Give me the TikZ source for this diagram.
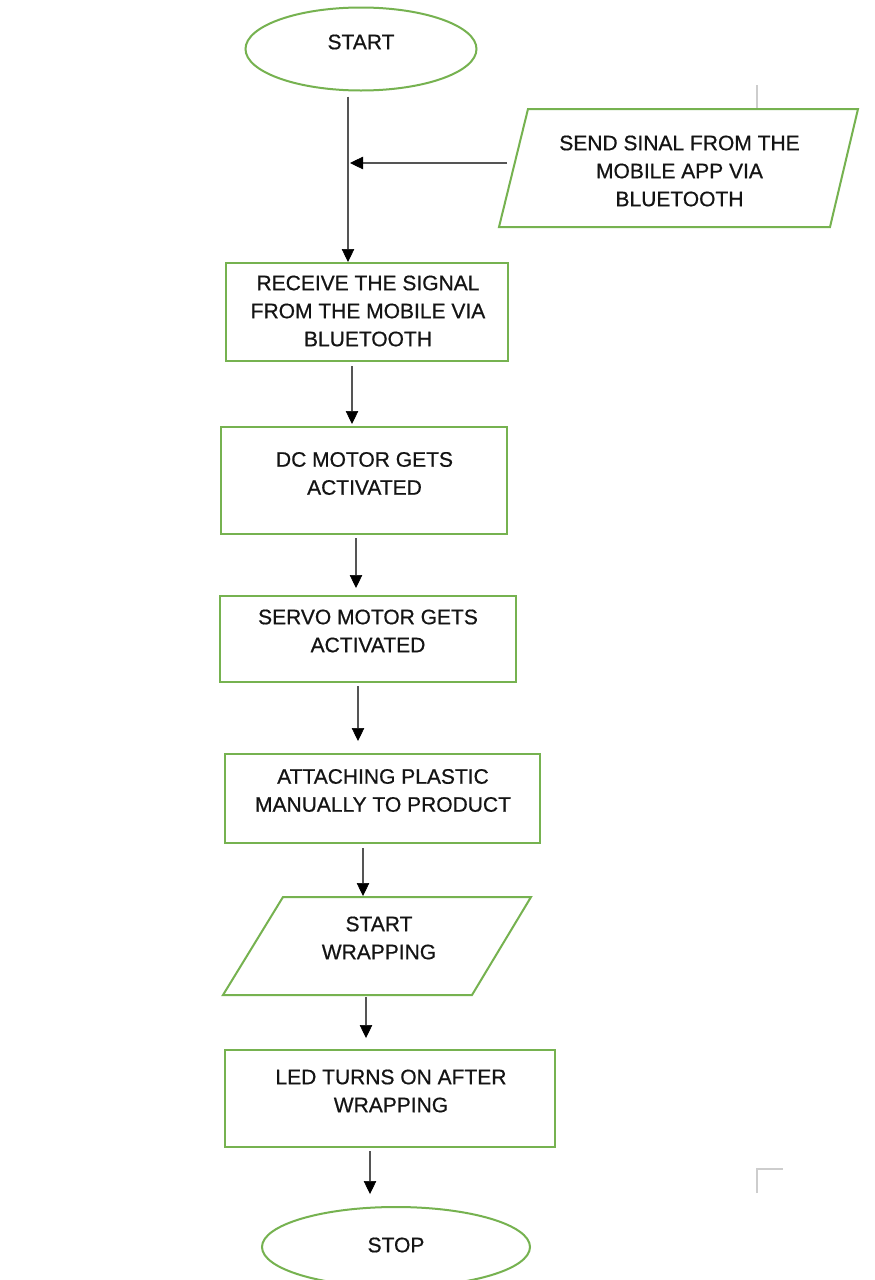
\documentclass[tikz,border=0pt]{standalone}
\usepackage{fontspec}
\setmainfont{Liberation Sans}[FakeBold=0.6]
\usetikzlibrary{arrows.meta,shapes.geometric}
\definecolor{boxgreen}{RGB}{118,178,80}
\definecolor{linegray}{RGB}{85,85,85}
\definecolor{markgray}{RGB}{205,205,205}
\tikzset{
  greenbox/.style={draw=boxgreen, line width=2pt, rectangle, inner sep=0pt},
  greenoval/.style={draw=boxgreen, line width=2pt, ellipse, inner sep=0pt},
  greenline/.style={draw=boxgreen, line width=2pt, line join=miter},
  lbl/.style={font=\fontsize{21}{28}\selectfont, align=center, inner sep=0pt, text=black!92},
  arr/.style={draw=linegray, line width=1.7pt, -{Triangle[length=13pt,width=12.5pt,color=black,fill=black,line width=0.5pt]}},
  pagemark/.style={draw=markgray, line width=1.5pt},
}
\begin{document}
\begin{tikzpicture}[x=1pt,y=-1pt]
\path[use as bounding box] (0,0) rectangle (875,1280);
\fill[white] (0,0) rectangle (875,1280);
\clip (0,0) rectangle (875,1280);

% page corner marks
\draw[pagemark] (757,85) -- (757,109);
\draw[pagemark] (757,1193) -- (757,1169) -- (783,1169);

% START
\node[greenoval, minimum width=231pt, minimum height=83pt] (start) at (361,49) {};
\node[lbl] (startT) at (361,42) {START};

% SEND (parallelogram)
\draw[greenline] (499,227) -- (528,109) -- (858,109) -- (830,227) -- cycle;
\node[lbl] (sendT) at (679.5,171) {SEND SINAL FROM THE\\MOBILE APP VIA\\BLUETOOTH};
\coordinate (sendW) at (514,163);

% RECEIVE
\node[greenbox, minimum width=282pt, minimum height=98pt] (recv) at (367,312) {};
\node[lbl] (recvT) at (368,311) {RECEIVE THE SIGNAL\\FROM THE MOBILE VIA\\BLUETOOTH};

% DC
\node[greenbox, minimum width=286pt, minimum height=107pt] (dc) at (364,480.5) {};
\node[lbl] (dcT) at (364.5,473.5) {DC MOTOR GETS\\ACTIVATED};

% SERVO
\node[greenbox, minimum width=296pt, minimum height=86pt] (servo) at (368,639) {};
\node[lbl] (servoT) at (368,631) {SERVO MOTOR GETS\\ACTIVATED};

% ATTACH
\node[greenbox, minimum width=315pt, minimum height=89pt] (attach) at (382.5,798.5) {};
\node[lbl] (attachT) at (383,790.5) {ATTACHING PLASTIC\\MANUALLY TO PRODUCT};

% START WRAPPING (parallelogram)
\draw[greenline] (223,995) -- (283,897) -- (531,897) -- (472,995) -- cycle;
\node[lbl] (wrapT) at (379,938) {START\\WRAPPING};
\coordinate (wrapN) at (377,897);
\coordinate (wrapS) at (377,995);

% LED
\node[greenbox, minimum width=330pt, minimum height=97pt] (led) at (390,1098.5) {};
\node[lbl] (ledT) at (391,1091) {LED TURNS ON AFTER\\WRAPPING};

% STOP
\node[greenoval, minimum width=268pt, minimum height=80pt] (stop) at (396,1247) {};
\node[lbl] (stopT) at (396,1245) {STOP};

% connector columns
\coordinate (c1) at (348,0);
\coordinate (c2) at (352,0);
\coordinate (c3) at (356,0);
\coordinate (c4) at (358,0);
\coordinate (c5) at (363,0);
\coordinate (c6) at (366,0);
\coordinate (c7) at (370,0);

% connectors
\draw[arr, shorten <=5pt] (start.south -| c1) -- (recv.north -| c1);
\draw[arr, shorten <=7pt, shorten >=2pt] (sendW) -- (sendW -| c1);
\draw[arr, shorten <=4pt, shorten >=2pt] (recv.south -| c2) -- (dc.north -| c2);
\draw[arr, shorten <=3pt, shorten >=7pt] (dc.south -| c3) -- (servo.north -| c3);
\draw[arr, shorten <=3pt, shorten >=12pt] (servo.south -| c4) -- (attach.north -| c4);
\draw[arr, shorten <=4pt, shorten >=1pt] (attach.south -| c5) -- (wrapN -| c5);
\draw[arr, shorten <=2pt, shorten >=11pt] (wrapS -| c6) -- (led.north -| c6);
\draw[arr, shorten <=3pt, shorten >=12pt] (led.south -| c7) -- (stop.north -| c7);
\end{tikzpicture}
\end{document}
